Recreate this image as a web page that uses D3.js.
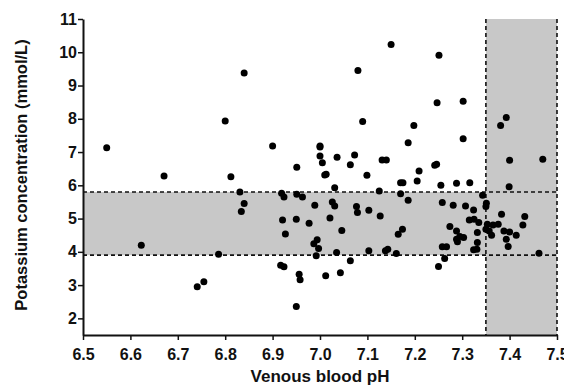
<!DOCTYPE html>
<html>
<head>
<meta charset="utf-8">
<script src="https://cdn.jsdelivr.net/npm/d3@7"></script>
<style>
  body { margin: 0; background: #fff; }
  text { font-family: "Liberation Sans", Arial, sans-serif; font-weight: bold; }
</style>
</head>
<body>
<div id="chart"></div>
<script>
// Venous blood pH vs potassium
const phValues = [
  6.55, 6.80, 6.84, 7.15, 7.08, 7.09, 6.90, 7.00, 7.00, 7.00,
  7.005, 7.036, 7.073, 7.064, 6.951, 7.131, 7.140, 7.251, 7.247, 7.302,
  7.198, 7.186, 7.302, 7.393, 7.381, 7.400, 7.470, 7.209, 7.242, 7.246,
  6.671, 6.812, 6.623, 6.786, 6.741, 6.755, 7.010, 7.013, 7.099, 7.031,
  6.831, 7.125, 6.919, 6.924, 6.951, 6.963, 6.840, 6.834, 6.989, 7.026,
  7.031, 7.077, 7.079, 7.103, 7.127, 6.921, 6.950, 6.977, 7.021, 6.927,
  7.046, 6.994, 6.987, 6.997, 6.992, 7.035, 7.103, 7.138, 7.143, 6.917,
  6.924, 6.956, 6.958, 7.012, 7.043, 7.064, 6.950, 7.205, 7.170, 7.175,
  7.255, 7.288, 7.316, 7.399, 7.170, 7.186, 7.343, 7.351, 7.350, 7.258,
  7.281, 7.307, 7.324, 7.383, 7.432, 7.315, 7.325, 7.335, 7.353, 7.365,
  7.376, 7.428, 7.274, 7.350, 7.357, 7.362, 7.388, 7.400, 7.414, 7.332,
  7.288, 7.295, 7.288, 7.303, 7.290, 7.393, 7.397, 7.165, 7.174, 7.332,
  7.258, 7.267, 7.161, 7.324, 7.331, 7.462, 7.263, 7.250
];
const kValues = [
  7.13, 7.93, 9.38, 10.23, 9.45, 7.92, 7.18, 7.15, 7.18, 6.88,
  6.68, 6.84, 6.91, 6.62, 6.54, 6.76, 6.76, 9.91, 8.48, 8.53,
  7.80, 7.28, 7.40, 8.04, 7.80, 6.75, 6.78, 6.43, 6.60, 6.63,
  6.28, 6.26, 4.20, 3.93, 2.95, 3.10, 6.31, 6.33, 6.30, 5.93,
  5.80, 5.83, 5.76, 5.65, 5.73, 5.65, 5.45, 5.21, 5.40, 5.50,
  5.38, 5.36, 5.18, 5.25, 5.08, 4.96, 4.98, 4.86, 5.02, 4.54,
  4.64, 4.36, 4.24, 4.10, 3.88, 3.98, 4.03, 4.03, 4.08, 3.60,
  3.55, 3.33, 3.16, 3.28, 3.37, 3.73, 2.36, 6.13, 6.08, 6.08,
  6.00, 6.06, 6.08, 5.96, 5.75, 5.55, 5.70, 5.46, 5.36, 5.48,
  5.40, 5.38, 5.26, 5.13, 5.06, 4.96, 4.98, 4.88, 4.83, 4.81,
  4.83, 4.81, 4.76, 4.68, 4.63, 4.50, 4.63, 4.60, 4.50, 4.58,
  4.63, 4.46, 4.38, 4.43, 4.30, 4.38, 4.16, 4.53, 4.68, 4.28,
  4.15, 4.15, 3.95, 4.06, 4.08, 3.96, 3.80, 3.56
];
const xTicks = [6.5, 6.6, 6.7, 6.8, 6.9, 7.0, 7.1, 7.2, 7.3, 7.4, 7.5];
const yTicks = [2, 3, 4, 5, 6, 7, 8, 9, 10, 11];
const kRange = [3.9, 5.8];   // normal potassium range
const phRange = [7.35, 7.5]; // normal pH range

const width = 564, height = 385;
const margin = { top: 19, right: 7, bottom: 50, left: 83 };

const svg = d3.select('#chart')
  .append('svg')
  .attr('width', width)
  .attr('height', height);

const x = d3.scaleLinear()
  .domain([6.5, 7.5])
  .range([margin.left, width - margin.right]);

const y = d3.scaleLinear()
  .domain([1.5, 11])
  .range([height - margin.bottom, margin.top]);

const grey = '#c8c8c8';

// Shaded reference ranges
svg.append('rect')
  .attr('x', x(6.5))
  .attr('y', y(kRange[1]))
  .attr('width', x(7.5) - x(6.5))
  .attr('height', y(kRange[0]) - y(kRange[1]))
  .attr('fill', grey);

svg.append('rect')
  .attr('x', x(phRange[0]))
  .attr('y', y(11))
  .attr('width', x(phRange[1]) - x(phRange[0]))
  .attr('height', y(1.5) - y(11))
  .attr('fill', grey);

// Dashed boundary lines
kRange.forEach(k => {
  svg.append('line')
    .attr('x1', x(6.5)).attr('x2', x(7.5))
    .attr('y1', y(k)).attr('y2', y(k))
    .attr('stroke', '#111')
    .attr('stroke-width', 1.6)
    .attr('stroke-dasharray', '4,3');
});
phRange.forEach(p => {
  svg.append('line')
    .attr('x1', x(p)).attr('x2', x(p))
    .attr('y1', y(11)).attr('y2', y(1.5))
    .attr('stroke', '#111')
    .attr('stroke-width', 1.6)
    .attr('stroke-dasharray', '4,3');
});

// Points
svg.append('g')
  .selectAll('circle')
  .data(d3.range(phValues.length))
  .enter()
  .append('circle')
  .attr('cx', i => x(phValues[i]))
  .attr('cy', i => y(kValues[i]))
  .attr('r', 3.5)
  .attr('fill', '#000');

// Axes
const xAxis = svg.append('g')
  .attr('transform', `translate(0,${height - margin.bottom})`)
  .call(d3.axisBottom(x).tickValues(xTicks).tickFormat(d3.format('.1f')).tickSize(5).tickSizeOuter(0));

const yAxis = svg.append('g')
  .attr('transform', `translate(${margin.left},0)`)
  .call(d3.axisLeft(y).tickValues(yTicks).tickFormat(d3.format('d')).tickSize(5).tickSizeOuter(0));

[xAxis, yAxis].forEach(a => {
  a.select('.domain').attr('stroke', '#111').attr('stroke-width', 2);
  a.selectAll('.tick line').attr('stroke', '#111').attr('stroke-width', 1.5);
  a.selectAll('.tick text')
    .attr('fill', '#111')
    .attr('font-size', 16)
    .attr('font-weight', 'bold');
});
xAxis.selectAll('.tick text').attr('y', 25).attr('dy', 0);
yAxis.selectAll('.tick text').attr('x', -6);

// Axis titles
svg.append('text')
  .attr('x', (x(6.5) + x(7.5)) / 2)
  .attr('y', 382)
  .attr('text-anchor', 'middle')
  .attr('font-size', 17)
  .attr('fill', '#111')
  .text('Venous blood pH');

svg.append('text')
  .attr('transform', `translate(27,175) rotate(-90)`)
  .attr('text-anchor', 'middle')
  .attr('font-size', 16.5)
  .attr('fill', '#111')
  .text('Potassium concentration (mmol/L)');
</script>
</body>
</html>
